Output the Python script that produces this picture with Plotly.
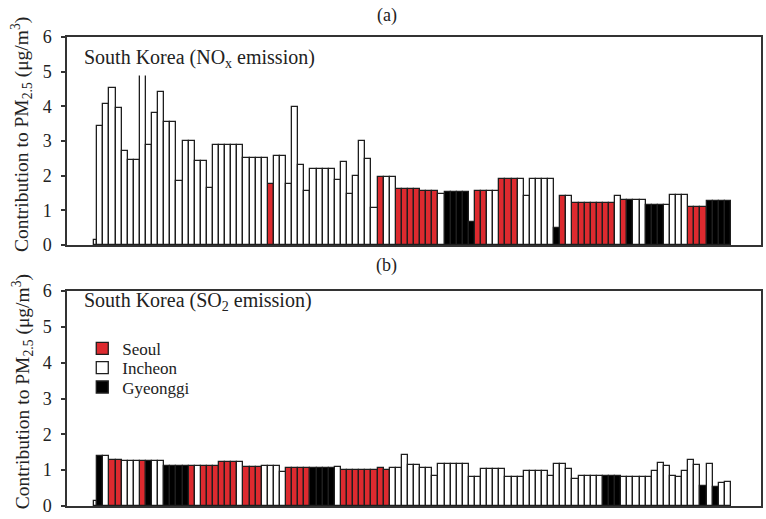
import plotly.graph_objects as go
from plotly.subplots import make_subplots

# ---------------- data ----------------
regions_names = ["Seoul", "Incheon", "Gyeonggi"]
region_colors = {"Seoul": "#dd2a2f", "Incheon": "#ffffff", "Gyeonggi": "#000000"}

S, I, G = "Seoul", "Incheon", "Gyeonggi"

# Panel (a): NOx emission contribution to PM2.5 (ug/m3)
nox_values = [
    0.15, 3.43, 4.06, 4.54, 3.94, 2.70, 2.46, 2.46, 5.60, 2.88,
    3.82, 4.41, 3.54, 3.54, 1.84, 3.00, 3.00, 2.43, 2.43, 1.64,
    2.88, 2.88, 2.88, 2.88, 2.88, 2.51, 2.51, 2.51, 2.51, 1.75,
    2.57, 2.57, 1.75, 3.97, 2.30, 1.56, 2.19, 2.19, 2.19, 2.19,
    1.88, 2.40, 1.48, 1.99, 2.99, 2.48, 1.07, 1.97, 1.97, 1.97,
    1.62, 1.62, 1.62, 1.62, 1.57, 1.57, 1.57, 1.48, 1.52, 1.52,
    1.52, 1.52, 0.66, 1.56, 1.56, 1.56, 1.56, 1.92, 1.92, 1.92,
    1.92, 1.43, 1.92, 1.92, 1.92, 1.92, 0.50, 1.43, 1.43, 1.21,
    1.21, 1.21, 1.21, 1.21, 1.21, 1.21, 1.43, 1.30, 1.30, 1.30,
    1.30, 1.16, 1.16, 1.16, 1.16, 1.45, 1.45, 1.45, 1.10, 1.10,
    1.10, 1.27, 1.27, 1.27, 1.27,
]
nox_regions = [
    I, I, I, I, I, I, I, I, I, I,
    I, I, I, I, I, I, I, I, I, I,
    I, I, I, I, I, I, I, I, I, S,
    I, I, I, I, I, I, I, I, I, I,
    I, I, I, I, I, I, I, S, I, I,
    S, S, S, S, S, S, S, I, G, G,
    G, G, G, S, S, I, I, S, S, S,
    I, I, I, I, I, I, G, S, I, S,
    S, S, S, S, S, S, I, S, G, I,
    I, G, G, G, I, I, I, I, S, S,
    S, G, G, G, G,
]

# Panel (b): SO2 emission contribution to PM2.5 (ug/m3)
so2_values = [
    0.13, 1.39, 1.39, 1.27, 1.27, 1.25, 1.25, 1.25, 1.25, 1.25,
    1.25, 1.25, 1.11, 1.11, 1.11, 1.11, 1.11, 1.11, 1.11, 1.11,
    1.11, 1.22, 1.22, 1.22, 1.22, 1.09, 1.09, 1.09, 1.11, 1.11,
    1.11, 0.96, 1.06, 1.06, 1.06, 1.06, 1.06, 1.06, 1.06, 1.06,
    1.08, 1.01, 1.01, 1.01, 1.01, 1.01, 1.01, 1.06, 1.01, 1.06,
    1.06, 1.41, 1.15, 1.15, 1.06, 1.06, 0.85, 1.16, 1.16, 1.16,
    1.16, 1.16, 0.81, 0.81, 1.04, 1.04, 1.04, 1.04, 0.80, 0.80,
    0.80, 0.98, 0.98, 0.98, 0.98, 0.85, 1.18, 1.18, 1.02, 0.76,
    0.85, 0.85, 0.85, 0.85, 0.83, 0.83, 0.83, 0.82, 0.82, 0.82,
    0.82, 0.82, 0.97, 1.19, 1.11, 0.85, 0.80, 0.98, 1.29, 1.15,
    0.56, 1.17, 0.54, 0.65, 0.67,
]
so2_regions = [
    I, G, I, S, S, I, I, I, S, G,
    I, I, G, G, G, G, S, I, S, S,
    S, S, S, S, I, S, S, S, I, I,
    I, I, S, S, S, S, G, G, G, G,
    I, S, S, S, S, S, S, S, S, I,
    I, I, I, I, I, I, I, I, I, I,
    I, I, I, I, I, I, I, I, I, I,
    I, I, I, I, I, I, I, I, I, I,
    I, I, I, I, G, G, G, I, I, I,
    I, I, I, I, I, I, I, I, I, I,
    G, I, G, I, I,
]

y_ticks = [0, 1, 2, 3, 4, 5, 6]
panel_titles = ["(a)", "(b)"]
panel_labels = ["South Korea (NO<sub>x</sub> emission)",
                "South Korea (SO<sub>2</sub> emission)"]
y_title = "Contribution to PM<sub>2.5</sub> (μg/m<sup>3</sup>)"

# ---------------- figure ----------------
FONT = "Liberation Serif, Times New Roman, serif"
fig = make_subplots(rows=2, cols=1, vertical_spacing=0.098)

legend_ids = {"Seoul": "legend", "Incheon": "legend2", "Gyeonggi": "legend3"}

for row, (vals, regs) in enumerate([(nox_values, nox_regions),
                                    (so2_values, so2_regions)], start=1):
    xs = list(range(len(vals)))
    widths = [0.5 if i == 0 else 1.0 for i in xs]      # first (edge) bar is half width
    offsets = [0.0 if i == 0 else -0.5 for i in xs]
    for name in regions_names:
        ys = [v if r == name else None for v, r in zip(vals, regs)]
        fig.add_trace(go.Bar(
            x=xs, y=ys, name=name, width=widths, offset=offsets,
            marker=dict(color=region_colors[name],
                        line=dict(color="#1e1e1e", width=1.3)),
            showlegend=(row == 2), legendgroup=name, legend=legend_ids[name],
        ), row=row, col=1)

leg_common = dict(x=0.022, xanchor="left", yanchor="top",
                  bgcolor="rgba(0,0,0,0)", font=dict(family=FONT, size=17, color="#222"),
                  itemwidth=30)
fig.update_layout(
    width=766, height=519,
    margin=dict(l=67, r=3, t=37, b=8),
    paper_bgcolor="white", plot_bgcolor="white",
    barmode="overlay", bargap=0,
    font=dict(family=FONT, size=17, color="#222"),
    legend=dict(y=0.3734, **leg_common),
    legend2=dict(y=0.3323, **leg_common),
    legend3=dict(y=0.2911, **leg_common),
)

xr = [-4.46, 109.44]
for ax in ["xaxis", "xaxis2"]:
    fig.layout[ax].update(range=xr, showticklabels=False, ticks="",
                          showgrid=False, zeroline=False,
                          showline=True, mirror=True, linecolor="#333", linewidth=1.5)
for ax in ["yaxis", "yaxis2"]:
    fig.layout[ax].update(range=[0, 6], tickvals=y_ticks, ticks="outside", ticklen=4,
                          tickcolor="#333", tickwidth=1.5, ticklabelstandoff=6,
                          showgrid=False, zeroline=False,
                          showline=True, mirror=True, linecolor="#333", linewidth=1.5,
                          tickfont=dict(family=FONT, size=18, color="#222"))
fig.layout.yaxis.domain = [0.5563, 1.0]
fig.layout.yaxis2.domain = [0.0, 0.4584]

# inward ticks on the right side
fig.update_layout(
    yaxis3=dict(overlaying="y", anchor="x", side="right", range=[0, 6], tickvals=y_ticks,
                ticks="inside", ticklen=4, tickcolor="#333", tickwidth=1.5,
                showticklabels=False, showgrid=False, zeroline=False, showline=False),
    yaxis4=dict(overlaying="y2", anchor="x2", side="right", range=[0, 6], tickvals=y_ticks,
                ticks="inside", ticklen=4, tickcolor="#333", tickwidth=1.5,
                showticklabels=False, showgrid=False, zeroline=False, showline=False),
)

annotations = [
    dict(text=panel_titles[0], x=0.461, y=1.045, xref="paper", yref="paper",
         xanchor="center", yanchor="middle",
         showarrow=False, font=dict(family=FONT, size=18, color="#222")),
    dict(text=panel_titles[1], x=0.461, y=0.5127, xref="paper", yref="paper",
         xanchor="center", yanchor="middle",
         showarrow=False, font=dict(family=FONT, size=18, color="#222")),
    dict(text=panel_labels[0], x=0.0172, y=0.955, xref="paper", yref="paper",
         xanchor="left", yanchor="middle", showarrow=False, bgcolor="white", borderpad=4,
         font=dict(family=FONT, size=20, color="#222")),
    dict(text=panel_labels[1], x=0.0172, y=0.4367, xref="paper", yref="paper",
         xanchor="left", yanchor="middle", showarrow=False, borderpad=4,
         font=dict(family=FONT, size=20, color="#222")),
    # y-axis titles
    dict(text=y_title, textangle=-90, x=-0.0647, y=0.7911, xref="paper", yref="paper",
         xanchor="center", yanchor="middle", showarrow=False,
         font=dict(family=FONT, size=19.5, color="#222")),
    dict(text=y_title, textangle=-90, x=-0.0647, y=0.2426, xref="paper", yref="paper",
         xanchor="center", yanchor="middle", showarrow=False,
         font=dict(family=FONT, size=19.5, color="#222")),
]
fig.update_layout(annotations=annotations)

fig.write_html("out.html")
